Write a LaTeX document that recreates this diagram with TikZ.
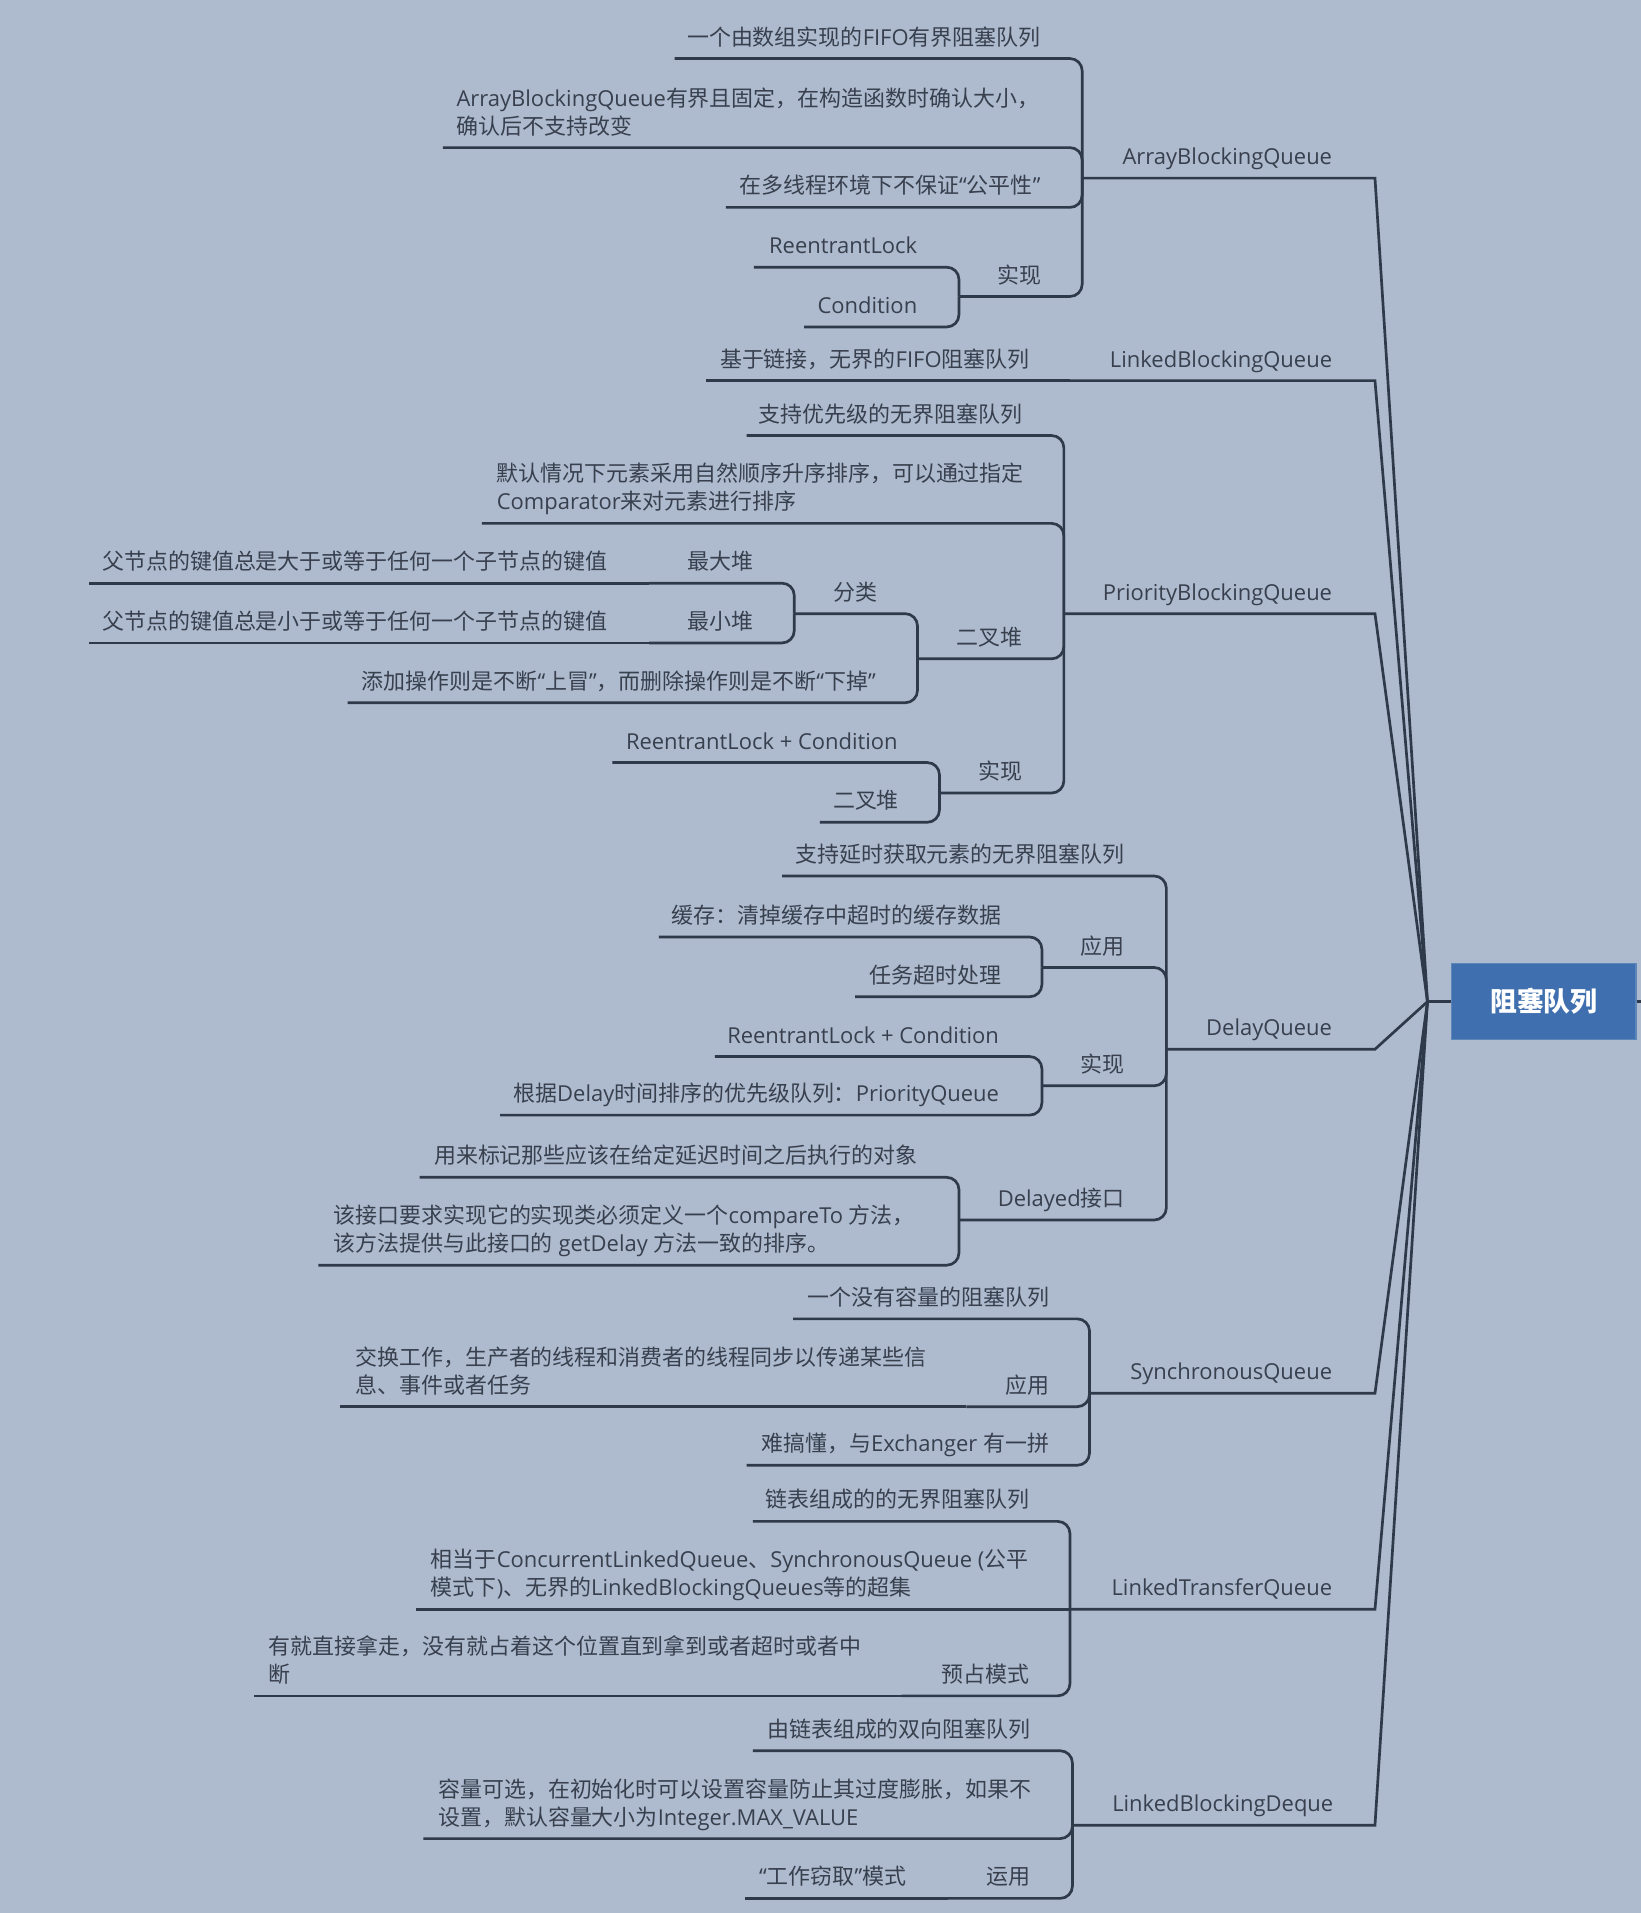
\documentclass[tikz,border=0pt]{standalone}
\usepackage{fontspec}
\setmainfont{Open Sans}
\newfontfamily\latinfont{Open Sans}
\newfontfamily\cjkfont{Noto Sans CJK SC}
\usetikzlibrary{positioning}

\definecolor{paper}{RGB}{174,187,207}
\definecolor{inkgray}{RGB}{56,64,78}
\definecolor{wire}{RGB}{46,57,74}
\definecolor{rootblue}{RGB}{63,111,174}

% switch to the CJK font for Chinese characters
\XeTeXinterchartokenstate=1
\newXeTeXintercharclass\cjkcls
\newcount\cjkcode
\cjkcode="3000
\loop
  \XeTeXcharclass\cjkcode=\cjkcls
  \ifnum\cjkcode<"9FFF \advance\cjkcode by 1
\repeat
\cjkcode="FF00
\loop
  \XeTeXcharclass\cjkcode=\cjkcls
  \ifnum\cjkcode<"FFEF \advance\cjkcode by 1
\repeat
\XeTeXinterchartoks 0 \cjkcls = {\cjkfont}
\XeTeXinterchartoks 4095 \cjkcls = {\cjkfont}
\XeTeXinterchartoks \cjkcls 0 = {\latinfont}
\XeTeXinterchartoks \cjkcls 4095 = {\latinfont}

\begin{document}
\begin{tikzpicture}[
    x=1pt, y=-1pt,
    topic/.style={inner sep=0pt, text=inkgray, font=\fontsize{18}{23}\selectfont},
    leaf/.style={topic, anchor=base east},
    note/.style={topic, anchor=base west, align=left},
    branch/.style={draw=wire, line width=2.2pt, rounded corners=10pt},
    trunk/.style={draw=wire, line width=2.2pt},
    rootbox/.style={rectangle, fill=rootblue, draw=rootblue!85!white, line width=1pt, minimum width=151pt, minimum height=62pt, text=white, font=\fontsize{22}{26}\selectfont\bfseries}
]
\fill[paper] (0,0) rectangle (1345,1568);
\useasboundingbox (0,0) rectangle (1345,1568);

% root
\node[rootbox] (root) at (1265.5,821) {阻塞队列};
\coordinate (hub) at (1170,821);
\draw[trunk] (root.west) -- (hub);
\draw[trunk] (root.east) -- ++(10,0);

% ArrayBlockingQueue
\node[leaf] (abq) at (1092,135) {ArrayBlockingQueue};
\coordinate (abq-l) at (887,146);
\draw[trunk] (hub) -- (1127,146) -- (abq-l);
\node[leaf] (abq-def) at (853,37) {一个由数组实现的FIFO有界阻塞队列};
\coordinate (abq-def-l) at (553,48);
\node[note] (abq-size) at (374,110) {ArrayBlockingQueue有界且固定，在构造函数时确认大小，\\确认后不支持改变};
\coordinate (abq-size-l) at (363,121);
\node[leaf] (abq-fair) at (853,159) {在多线程环境下不保证“公平性”};
\coordinate (abq-fair-l) at (595,170);
\node[leaf] (abq-impl) at (854,232) {实现};
\coordinate (abq-impl-l) at (786,243);
\node[leaf] (abq-lock) at (752,208) {ReentrantLock};
\coordinate (abq-lock-l) at (618,219);
\node[leaf] (abq-cond) at (752,257) {Condition};
\coordinate (abq-cond-l) at (659,268);
\foreach \c in {abq-def,abq-size,abq-fair,abq-impl}
  \draw[branch] (abq-l) |- (\c-l);
\foreach \c in {abq-lock,abq-cond}
  \draw[branch] (abq-impl-l) |- (\c-l);

% LinkedBlockingQueue
\node[leaf] (lbq) at (1092,301) {LinkedBlockingQueue};
\coordinate (lbq-l) at (877,312);
\draw[trunk] (hub) -- (1127,312) -- (lbq-l);
\node[leaf] (lbq-def) at (844,301) {基于链接，无界的FIFO阻塞队列};
\coordinate (lbq-def-l) at (579,312);
\draw[branch] (lbq-l) -- (lbq-def-l);

% PriorityBlockingQueue
\node[leaf] (pbq) at (1092,492) {PriorityBlockingQueue};
\coordinate (pbq-l) at (872,503);
\draw[trunk] (hub) -- (1127,503) -- (pbq-l);
\node[leaf] (pbq-def) at (838,346) {支持优先级的无界阻塞队列};
\coordinate (pbq-def-l) at (612,357);
\node[note] (pbq-order) at (407,418) {默认情况下元素采用自然顺序升序排序，可以通过指定\\Comparator来对元素进行排序};
\coordinate (pbq-order-l) at (395,429);
\node[leaf] (pbq-heap) at (838,529) {二叉堆};
\coordinate (pbq-heap-l) at (752,540);
\node[leaf] (pbq-kind) at (719,492) {分类};
\coordinate (pbq-kind-l) at (651,503);
\node[leaf] (pbq-max) at (618,467) {最大堆};
\coordinate (pbq-max-l) at (532,478);
\node[leaf] (pbq-maxdef) at (498,467) {父节点的键值总是大于或等于任何一个子节点的键值};
\coordinate (pbq-maxdef-l) at (73,478);
\node[leaf] (pbq-min) at (618,516) {最小堆};
\coordinate (pbq-min-l) at (532,527);
\node[leaf] (pbq-mindef) at (498,516) {父节点的键值总是小于或等于任何一个子节点的键值};
\coordinate (pbq-mindef-l) at (73,527);
\node[leaf] (pbq-sift) at (718,565) {添加操作则是不断“上冒”，而删除操作则是不断“下掉”};
\coordinate (pbq-sift-l) at (285,576);
\node[leaf] (pbq-impl) at (838,639) {实现};
\coordinate (pbq-impl-l) at (770,650);
\node[leaf] (pbq-lock) at (736,614) {ReentrantLock + Condition};
\coordinate (pbq-lock-l) at (502,625);
\node[leaf] (pbq-tree) at (737,663) {二叉堆};
\coordinate (pbq-tree-l) at (672,674);
\foreach \c in {pbq-def,pbq-order,pbq-heap,pbq-impl}
  \draw[branch] (pbq-l) |- (\c-l);
\foreach \c in {pbq-kind,pbq-sift}
  \draw[branch] (pbq-heap-l) |- (\c-l);
\foreach \c in {pbq-max,pbq-min}
  \draw[branch] (pbq-kind-l) |- (\c-l);
\draw[branch] (pbq-max-l) -- (pbq-maxdef-l);
\draw[branch] (pbq-min-l) -- (pbq-mindef-l);
\foreach \c in {pbq-lock,pbq-tree}
  \draw[branch] (pbq-impl-l) |- (\c-l);

% DelayQueue
\node[leaf] (dq) at (1092,849) {DelayQueue};
\coordinate (dq-l) at (956,860);
\draw[trunk] (hub) -- (1127,860) -- (dq-l);
\node[leaf] (dq-def) at (922,707) {支持延时获取元素的无界阻塞队列};
\coordinate (dq-def-l) at (641,718);
\node[leaf] (dq-use) at (922,782) {应用};
\coordinate (dq-use-l) at (854,793);
\node[leaf] (dq-cache) at (821,757) {缓存：清掉缓存中超时的缓存数据};
\coordinate (dq-cache-l) at (540,768);
\node[leaf] (dq-timeout) at (821,806) {任务超时处理};
\coordinate (dq-timeout-l) at (701,817);
\node[leaf] (dq-impl) at (922,879) {实现};
\coordinate (dq-impl-l) at (854,890);
\node[leaf] (dq-lock) at (819,855) {ReentrantLock + Condition};
\coordinate (dq-lock-l) at (586,866);
\node[leaf] (dq-pq) at (819,903) {根据Delay时间排序的优先级队列：PriorityQueue};
\coordinate (dq-pq-l) at (410,914);
\node[leaf] (dq-if) at (922,989) {Delayed接口};
\coordinate (dq-if-l) at (786,1000);
\node[leaf] (dq-mark) at (752,954) {用来标记那些应该在给定延迟时间之后执行的对象};
\coordinate (dq-mark-l) at (344,965);
\node[note] (dq-cmp) at (273,1026) {该接口要求实现它的实现类必须定义一个compareTo 方法，\\该方法提供与此接口的 getDelay 方法一致的排序。};
\coordinate (dq-cmp-l) at (261,1037);
\foreach \c in {dq-def,dq-use,dq-impl,dq-if}
  \draw[branch] (dq-l) |- (\c-l);
\foreach \c in {dq-cache,dq-timeout}
  \draw[branch] (dq-use-l) |- (\c-l);
\foreach \c in {dq-lock,dq-pq}
  \draw[branch] (dq-impl-l) |- (\c-l);
\foreach \c in {dq-mark,dq-cmp}
  \draw[branch] (dq-if-l) |- (\c-l);

% SynchronousQueue
\node[leaf] (sq) at (1092,1131) {SynchronousQueue};
\coordinate (sq-l) at (893,1142);
\draw[trunk] (hub) -- (1127,1142) -- (sq-l);
\node[leaf] (sq-def) at (860,1070) {一个没有容量的阻塞队列};
\coordinate (sq-def-l) at (650,1081);
\node[leaf] (sq-use) at (860,1142) {应用};
\coordinate (sq-use-l) at (792,1153);
\node[note] (sq-swap) at (291,1142) {交换工作，生产者的线程和消费者的线程同步以传递某些信\\息、事件或者任务};
\coordinate (sq-swap-l) at (279,1153);
\node[leaf] (sq-hard) at (860,1190) {难搞懂，与Exchanger 有一拼};
\coordinate (sq-hard-l) at (612,1201);
\foreach \c in {sq-def,sq-use,sq-hard}
  \draw[branch] (sq-l) |- (\c-l);
\draw[branch] (sq-use-l) -- (sq-swap-l);

% LinkedTransferQueue
\node[leaf] (ltq) at (1092,1308) {LinkedTransferQueue};
\coordinate (ltq-l) at (877,1319);
\draw[trunk] (hub) -- (1127,1319) -- (ltq-l);
\node[leaf] (ltq-def) at (844,1236) {链表组成的的无界阻塞队列};
\coordinate (ltq-def-l) at (617,1247);
\node[note] (ltq-super) at (353,1308) {相当于ConcurrentLinkedQueue、SynchronousQueue (公平\\模式下)、无界的LinkedBlockingQueues等的超集};
\coordinate (ltq-super-l) at (341,1319);
\node[leaf] (ltq-pre) at (844,1379) {预占模式};
\coordinate (ltq-pre-l) at (739,1390);
\node[note] (ltq-take) at (220,1379) {有就直接拿走，没有就占着这个位置直到拿到或者超时或者中\\断};
\coordinate (ltq-take-l) at (208,1390);
\foreach \c in {ltq-def,ltq-pre}
  \draw[branch] (ltq-l) |- (\c-l);
\draw[branch] (ltq-l) -- (ltq-super-l);
\draw[branch] (ltq-pre-l) -- (ltq-take-l);

% LinkedBlockingDeque
\node[leaf] (lbd) at (1093,1485) {LinkedBlockingDeque};
\coordinate (lbd-l) at (879,1496);
\draw[trunk] (hub) -- (1127,1496) -- (lbd-l);
\node[leaf] (lbd-def) at (845,1424) {由链表组成的双向阻塞队列};
\coordinate (lbd-def-l) at (617,1435);
\node[note] (lbd-cap) at (359,1496) {容量可选，在初始化时可以设置容量防止其过度膨胀，如果不\\设置，默认容量大小为Integer.MAX\_VALUE};
\coordinate (lbd-cap-l) at (347,1507);
\node[leaf] (lbd-use) at (845,1545) {运用};
\coordinate (lbd-use-l) at (777,1556);
\node[leaf] (lbd-steal) at (743,1545) {“工作窃取”模式};
\coordinate (lbd-steal-l) at (611,1556);
\foreach \c in {lbd-def,lbd-cap,lbd-use}
  \draw[branch] (lbd-l) |- (\c-l);
\draw[branch] (lbd-use-l) -- (lbd-steal-l);

\end{tikzpicture}
\end{document}
